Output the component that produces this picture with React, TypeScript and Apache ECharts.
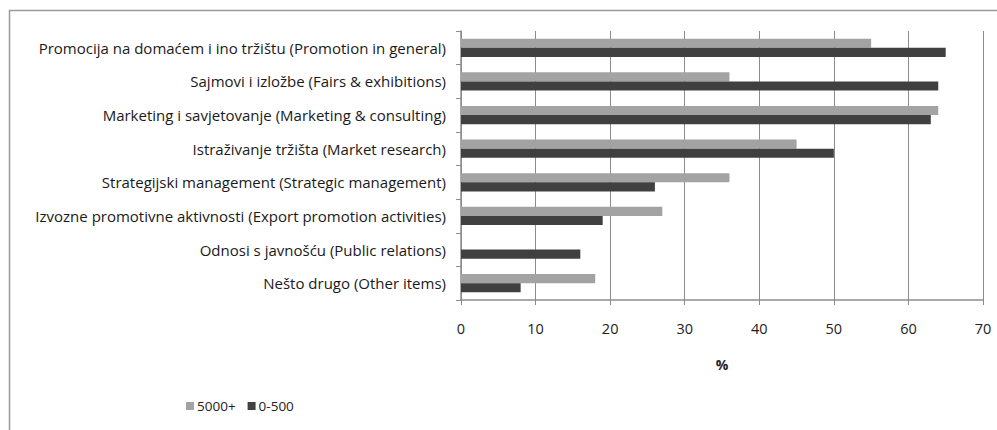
import React, { useEffect, useRef } from "react";
import * as echarts from "echarts";

const categories = [
  "Promocija na domaćem i ino tržištu (Promotion in general)",
  "Sajmovi i izložbe (Fairs & exhibitions)",
  "Marketing i savjetovanje (Marketing & consulting)",
  "Istraživanje tržišta (Market research)",
  "Strategijski management (Strategic management)",
  "Izvozne promotivne aktivnosti (Export promotion activities)",
  "Odnosi s javnošću (Public relations)",
  "Nešto drugo (Other items)",
];
const seriesNames = ["5000+", "0-500"];
const large = [55, 36, 64, 45, 36, 27, 0, 18];
const small = [65, 64, 63, 50, 26, 19, 16, 8];
const axisTitle = "%";

export default function App() {
  const ref = useRef<HTMLDivElement>(null);
  useEffect(() => {
    const chart = echarts.init(ref.current!, undefined, { renderer: "svg" });
    const font = "'Open Sans', Lato, sans-serif";
    chart.setOption({
      animation: false,
      backgroundColor: "#ffffff",
      textStyle: { fontFamily: font },
      graphic: [
        {
          type: "rect",
          shape: { x: 9.5, y: 10.5, width: 1100, height: 600 },
          style: { fill: "none", stroke: "#9a9a9a", lineWidth: 1.5 },
          silent: true,
        },
      ],
      legend: {
        left: 181,
        top: 394,
        itemWidth: 8,
        itemHeight: 8,
        itemGap: 12,
        icon: "rect",
        textStyle: { fontFamily: font, fontSize: 13.5, color: "#222", padding: [0, 0, 0, -2] },
        data: seriesNames,
      },
      grid: { left: 461, right: 14, top: 31, bottom: 130, containLabel: false },
      xAxis: {
        type: "value",
        min: 0,
        max: 70,
        interval: 10,
        name: axisTitle,
        nameLocation: "middle",
        nameGap: 57,
        nameTextStyle: { fontFamily: font, fontSize: 14, fontWeight: "bold", color: "#222" },
        axisLine: { show: true, lineStyle: { color: "#8c8c8c", width: 1.5 } },
        axisTick: { show: true, length: 5, lineStyle: { color: "#8c8c8c" } },
        axisLabel: { margin: 21, fontSize: 14.5, color: "#222", fontFamily: font },
        splitLine: { show: true, lineStyle: { color: "#8c8c8c", width: 1 } },
      },
      yAxis: {
        type: "category",
        inverse: true,
        data: categories,
        axisLine: { show: true, lineStyle: { color: "#8c8c8c", width: 1.5 } },
        axisTick: { show: true, length: 5, lineStyle: { color: "#8c8c8c" } },
        axisLabel: { margin: 15, fontSize: 15, color: "#1a1a1a", fontFamily: font },
        splitLine: { show: false },
      },
      series: [
        {
          name: seriesNames[0],
          type: "bar",
          data: large,
          barGap: "0%",
          barCategoryGap: "46%",
          itemStyle: { color: "#a3a3a3" },
        },
        {
          name: seriesNames[1],
          type: "bar",
          data: small,
          barGap: "0%",
          barCategoryGap: "46%",
          itemStyle: { color: "#404040" },
        },
      ],
    });
    return () => chart.dispose();
  }, []);
  return (
    <div
      ref={ref}
      style={{ position: "fixed", left: 0, top: 0, width: 997, height: 430 }}
    />
  );
}
